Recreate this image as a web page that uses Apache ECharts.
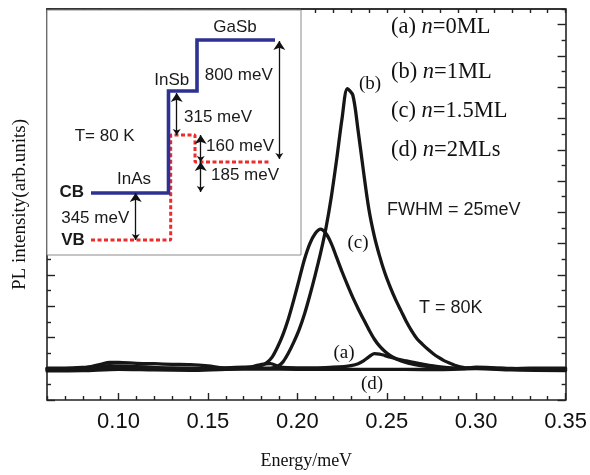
<!DOCTYPE html>
<html>
<head>
<meta charset="utf-8">
<script src="https://cdn.jsdelivr.net/npm/echarts@6/dist/echarts.min.js"></script>
<style>
html,body{margin:0;padding:0;background:#fff;}
#chart{width:590px;height:475px;}
</style>
</head>
<body>
<div id="chart"></div>
<script>
// ---------------- data ----------------
const xMajorTicks = [0.10, 0.15, 0.20, 0.25, 0.30, 0.35];
const xMinorTicks = [0.06,0.07,0.08,0.09,0.11,0.12,0.13,0.14,0.16,0.17,0.18,0.19,0.21,0.22,0.23,0.24,0.26,0.27,0.28,0.29,0.31,0.32,0.33,0.34];
const yMajorTicks = [-1,0,1,2,3,4,5,6,7,8,9,10,11];
const yMinorTicks = [-0.5,0.5,1.5,2.5,3.5,4.5,5.5,6.5,7.5,8.5,9.5,10.5,11.5];

// (a) n=0ML
const energyA = [0.06,0.07,0.08,0.09,0.095,0.10,0.11,0.12,0.13,0.14,0.15,0.16,0.17,0.175,0.18,0.185,0.19,0.20,0.21,0.22,0.226,0.23,0.234,0.237,0.240,0.243,0.246,0.249,0.252,0.256,0.260,0.265,0.270,0.275,0.280,0.286,0.292,0.30,0.31,0.32,0.33,0.34,0.35];
const intensityA = [0.02,0.02,0.04,0.08,0.1,0.09,0.07,0.04,0.0,-0.02,0.02,0.03,0.05,0.07,0.14,0.16,0.06,0.03,0.03,0.05,0.07,0.1,0.16,0.25,0.38,0.48,0.47,0.42,0.37,0.31,0.26,0.2,0.15,0.1,0.06,0.03,0.01,0.05,0.03,0.0,0.02,0.02,0.02];
// (b) n=1ML
const energyB = [0.06,0.08,0.10,0.12,0.14,0.16,0.175,0.183,0.186,0.189,0.192,0.195,0.198,0.201,0.204,0.207,0.210,0.213,0.216,0.219,0.222,0.225,0.228,0.231,0.234,0.237,0.240,0.243,0.246,0.249,0.252,0.255,0.258,0.261,0.264,0.267,0.270,0.273,0.276,0.279,0.282,0.285,0.288,0.291,0.294,0.30,0.31,0.33,0.35];
const intensityB = [0,0,0.05,0.03,0.02,0,0.02,0.02,0.03,0.08,0.22,0.5,0.85,1.25,1.75,2.35,3.0,3.7,4.5,5.5,6.7,8.0,8.95,8.75,7.6,6.3,5.1,4.25,3.6,3.05,2.6,2.2,1.85,1.5,1.2,0.95,0.78,0.62,0.48,0.36,0.26,0.18,0.11,0.06,0.03,0.02,0.02,0,0];
// (c) n=1.5ML
const energyC = [0.06,0.08,0.09,0.095,0.10,0.11,0.12,0.13,0.14,0.15,0.16,0.17,0.177,0.180,0.183,0.186,0.189,0.192,0.195,0.198,0.201,0.204,0.207,0.210,0.213,0.216,0.219,0.222,0.225,0.228,0.231,0.234,0.237,0.240,0.243,0.246,0.249,0.252,0.255,0.258,0.262,0.268,0.275,0.283,0.29,0.30,0.32,0.35];
const intensityC = [-0.03,0.02,0.14,0.2,0.2,0.17,0.16,0.14,0.13,0.09,0.02,0.02,0.05,0.1,0.2,0.38,0.7,1.1,1.6,2.2,2.85,3.5,4.0,4.32,4.46,4.32,4.0,3.55,3.1,2.68,2.28,1.92,1.58,1.25,0.95,0.72,0.55,0.42,0.32,0.25,0.18,0.11,0.06,0.02,0,0.03,-0.02,-0.03];
// (d) n=2MLs
const energyD = [0.06,0.08,0.10,0.12,0.14,0.16,0.18,0.20,0.22,0.24,0.26,0.28,0.30,0.32,0.35];
const intensityD = [-0.07,-0.06,-0.02,-0.04,-0.05,-0.02,-0.01,-0.02,-0.02,-0.02,-0.02,-0.03,0,-0.04,-0.06];

const curveNames = ['(a) n=0ML','(b) n=1ML','(c) n=1.5ML','(d) n=2MLs'];

// inset band diagram (schematic units)
const bandMaterials = ['InAs','InSb','GaSb'];
const cbLevels = [47, 149, 200];
const vbLevels = [0, 105, 78];
const cbBoundaries = [44, 121.5, 150, 228];
const vbBoundaries = [44, 123.7, 148, 223];
const offsetLabels = ['345 meV','315 meV','160 meV','185 meV','800 meV'];

// ---------------- build ----------------
const zip = (xs, ys) => xs.map((x, i) => [x, ys[i]]);
function stepPath(bounds, levels){
  const p = [];
  levels.forEach((l, i) => { p.push([bounds[i], l]); p.push([bounds[i+1], l]); });
  return p;
}
const SERIF = 'Liberation Serif, Times New Roman, serif';
const SANS = 'Liberation Sans, Arial, sans-serif';
const curveColor = '#161616';

function curve(name, xs, ys){
  return {
    name, type: 'line', data: zip(xs, ys), showSymbol: false,
    smooth: 0.3,
    lineStyle: {width: 3.3, color: curveColor, cap: 'round', join: 'round'},
    itemStyle: {color: curveColor}, z: 3
  };
}

// arrows between band levels: [x position, from level, to level]
const arrowDefs = [
  [88.7, vbLevels[0], cbLevels[0]],
  [129.7, vbLevels[1], cbLevels[1] - 2],
  [153.7, vbLevels[2], vbLevels[1]],
  [153.7, cbLevels[0] + 1, vbLevels[2]],
  [232.3, vbLevels[2] + 3, cbLevels[2] - 1]
];

const axisColor = '#222';
function xAx(extra){
  return Object.assign({type: 'value', min: 0.06, max: 0.35, gridIndex: 0, splitLine: {show: false}}, extra);
}
function yAx(extra){
  return Object.assign({type: 'value', gridIndex: 0, min: -1, max: 11.5, axisLabel: {show: false}, splitLine: {show: false}}, extra);
}
const tickLine = {color: axisColor, width: 1.4};

const option = {
  animation: false,
  backgroundColor: '#fff',
  grid: [
    {left: 47, top: 9, width: 520, height: 391},
    {left: 47, top: 9, width: 254, height: 246}
  ],
  xAxis: [
    xAx({
      position: 'bottom',
      name: 'Energy/meV', nameLocation: 'middle', nameGap: 52,
      nameTextStyle: {fontFamily: SERIF, fontSize: 18, color: '#111'},
      axisLine: {show: true, onZero: false, lineStyle: {color: axisColor, width: 1.6}},
      axisTick: {show: true, inside: true, length: 7, customValues: xMajorTicks, lineStyle: tickLine},
      axisLabel: {show: true, customValues: xMajorTicks, fontFamily: SANS, fontSize: 22, color: '#111', margin: 11,
        formatter: v => v.toFixed(2)}
    }),
    xAx({
      position: 'bottom',
      axisLine: {show: false, onZero: false},
      axisTick: {show: true, inside: true, length: 4, customValues: xMinorTicks, lineStyle: tickLine},
      axisLabel: {show: false}
    }),
    xAx({
      position: 'top',
      axisLine: {show: true, onZero: false, lineStyle: {color: '#333', width: 2}},
      axisTick: {show: true, inside: true, length: 4, customValues: xMinorTicks.concat(xMajorTicks), lineStyle: tickLine},
      axisLabel: {show: false}
    }),
    {type: 'value', gridIndex: 1, min: 0, max: 254, show: false}
  ],
  yAxis: [
    yAx({position: 'left',
      name: 'PL intensity(arb.units)', nameLocation: 'middle', nameGap: 17, nameRotate: 90,
      nameTextStyle: {fontFamily: SERIF, fontSize: 19, color: '#111'},
      axisLine: {show: true, onZero: false, lineStyle: {color: axisColor, width: 1.6}},
      axisTick: {show: true, inside: true, length: 8, customValues: yMajorTicks, lineStyle: tickLine}}),
    yAx({position: 'left',
      axisLine: {show: false, onZero: false},
      axisTick: {show: true, inside: true, length: 4, customValues: yMinorTicks, lineStyle: tickLine}}),
    yAx({position: 'right',
      axisLine: {show: true, onZero: false, lineStyle: {color: axisColor, width: 1.6}},
      axisTick: {show: true, inside: true, length: 8, customValues: yMajorTicks, lineStyle: tickLine}}),
    yAx({position: 'right',
      axisLine: {show: false, onZero: false},
      axisTick: {show: true, inside: true, length: 4, customValues: yMinorTicks, lineStyle: tickLine}}),
    {type: 'value', gridIndex: 1, min: -15, max: 231, show: false}
  ],
  series: [
    curve(curveNames[3], energyD, intensityD),
    curve(curveNames[0], energyA, intensityA),
    curve(curveNames[2], energyC, intensityC),
    curve(curveNames[1], energyB, intensityB),
    {
      name: 'CB', type: 'line', xAxisIndex: 3, yAxisIndex: 4, z: 62,
      data: stepPath(cbBoundaries, cbLevels), showSymbol: false,
      lineStyle: {color: '#2e3192', width: 3.6, join: 'miter'}
    },
    {
      name: 'VB', type: 'line', xAxisIndex: 3, yAxisIndex: 4, z: 61,
      data: stepPath(vbBoundaries, vbLevels), showSymbol: false,
      lineStyle: {color: '#ee2a2a', width: 3, type: [4, 2.5]}
    },
    {
      name: 'offsets', type: 'lines', coordinateSystem: 'cartesian2d', xAxisIndex: 3, yAxisIndex: 4, z: 63,
      symbol: ['arrow', 'arrow'], symbolSize: [6, 9],
      lineStyle: {color: '#111', width: 1.3, type: 'solid', opacity: 1},
      data: arrowDefs.map((d, i) => ({name: offsetLabels[i], coords: [[d[0], d[1]], [d[0], d[2]]]}))
    }
  ],
  graphic: [
    {type: 'rect', z: 55, shape: {x: 47, y: 10, width: 254, height: 245},
      style: {fill: '#fff', stroke: '#8a8a8a', lineWidth: 1}},
    // inset texts
    ...[
      ['GaSb', 235, 27, false], ['InSb', 171.7, 80, false], ['800 meV', 238.7, 75, false],
      ['315 meV', 218, 117, false], ['T= 80 K', 104.7, 136, false], ['160 meV', 240, 146.7, false],
      ['185 meV', 245, 175, false], ['InAs', 134, 179, false], ['CB', 71.7, 192.7, true],
      ['345 meV', 95.2, 218.3, false], ['VB', 73, 240, true]
    ].map(t => ({type: 'text', z: 70, style: {text: t[0], x: t[1], y: t[2], align: 'center', verticalAlign: 'middle',
      font: (t[3] ? 'bold ' : '') + '17px ' + SANS, fill: '#1a1a1a'}})),
    // legend-like labels
    ...[['(a) ', '=0ML', 26.7], ['(b) ', '=1ML', 71.7], ['(c) ', '=1.5ML', 110.7], ['(d) ', '=2MLs', 150]].map(t => ({
      type: 'text', z: 70,
      style: {text: '{r|' + t[0] + '}{i|n}{r|' + t[1] + '}', x: 391, y: t[2], align: 'left', verticalAlign: 'middle',
        rich: {r: {fontFamily: SERIF, fontSize: 22.5, fill: '#111'}, i: {fontFamily: SERIF, fontSize: 22.5, fontStyle: 'italic', fill: '#111'}}}
    })),
    {type: 'text', z: 70, style: {text: 'FWHM = 25meV', x: 387, y: 210, align: 'left', verticalAlign: 'middle', font: '18px ' + SANS, fill: '#1a1a1a'}},
    {type: 'text', z: 70, style: {text: 'T = 80K', x: 419, y: 308, align: 'left', verticalAlign: 'middle', font: '18px ' + SANS, fill: '#1a1a1a'}},
    ...[['(b)', 370, 84], ['(c)', 358, 243], ['(a)', 344, 353], ['(d)', 372, 384]].map(t => ({
      type: 'text', z: 70, style: {text: t[0], x: t[1], y: t[2], align: 'center', verticalAlign: 'middle', font: '19px ' + SERIF, fill: '#111'}
    }))
  ]
};

const chart = echarts.init(document.getElementById('chart'), null, {renderer: 'canvas'});
chart.setOption(option);
</script>
</body>
</html>
